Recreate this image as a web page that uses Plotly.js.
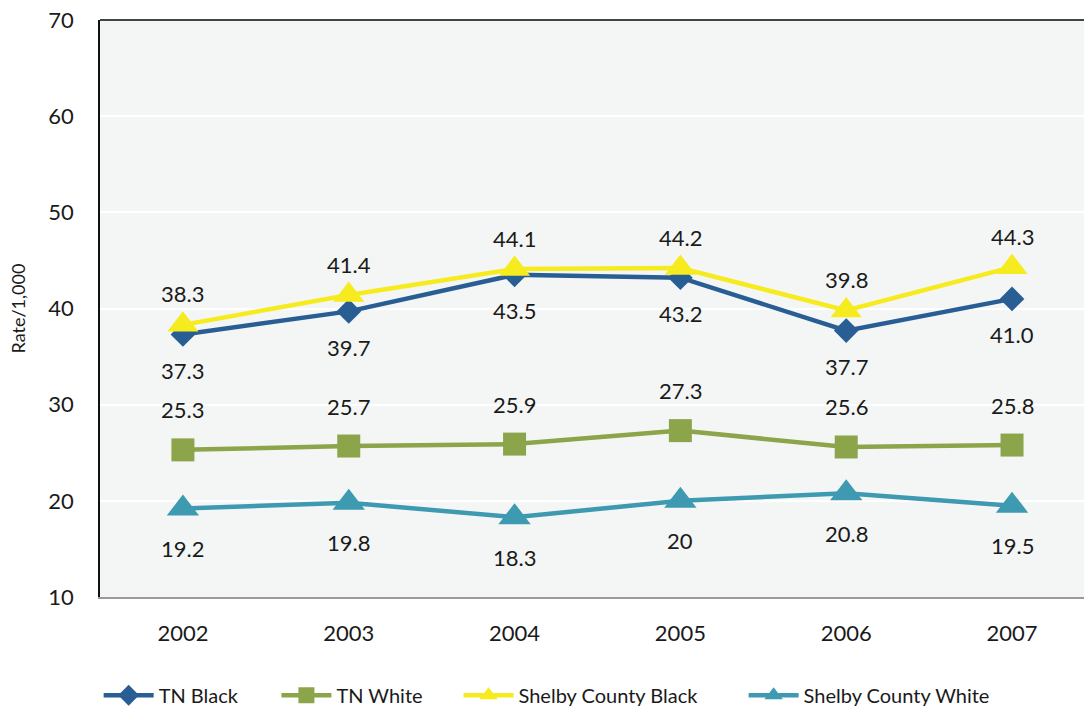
<!DOCTYPE html>
<html>
<head>
<meta charset="utf-8">
<script src="https://cdn.plot.ly/plotly-3.0.1.min.js"></script>
<style>html,body{margin:0;padding:0;background:#fff;}#chart{width:1084px;height:708px;}</style>
</head>
<body>
<div id="chart"></div>
<script>
const years = ["2002", "2003", "2004", "2005", "2006", "2007"];
const tnBlack = [37.3, 39.7, 43.5, 43.2, 37.7, 41.0];
const tnBlackText = ["37.3", "39.7", "43.5", "43.2", "37.7", "41.0"];
const tnWhite = [25.3, 25.7, 25.9, 27.3, 25.6, 25.8];
const tnWhiteText = ["25.3", "25.7", "25.9", "27.3", "25.6", "25.8"];
const shelbyBlack = [38.3, 41.4, 44.1, 44.2, 39.8, 44.3];
const shelbyBlackText = ["38.3", "41.4", "44.1", "44.2", "39.8", "44.3"];
const shelbyWhite = [19.2, 19.8, 18.3, 20, 20.8, 19.5];
const shelbyWhiteText = ["19.2", "19.8", "18.3", "20", "20.8", "19.5"];

const FONT = "Lato, 'Noto Sans', sans-serif";

function series(name, y, color, symbol, size, legendId) {
  return {
    type: "scatter", mode: "lines+markers", name: name,
    x: years, y: y, legend: legendId,
    line: {color: color, width: 4.5},
    marker: {color: color, symbol: symbol, size: size},
    cliponaxis: false
  };
}

const data = [
  series("TN Black", tnBlack, "#285e94", "diamond", 19, "legend"),
  series("TN White", tnWhite, "#8ca44a", "square", 23, "legend2"),
  series("Shelby County Black", shelbyBlack, "#f5eb1e", "triangle-up", 27, "legend3"),
  series("Shelby County White", shelbyWhite, "#3d9ab0", "triangle-up", 28, "legend4")
];

function labels(y, text, shift) {
  return years.map((yr, i) => ({
    x: i, y: y[i], text: text[i], showarrow: false,
    xref: "x", yref: "y", yshift: shift,
    font: {family: FONT, size: 22, color: "#1a1a1a"}
  }));
}

const annotations = [].concat(
  labels(tnBlack, tnBlackText, -36),
  labels(tnWhite, tnWhiteText, 40),
  labels(shelbyBlack, shelbyBlackText, 31),
  labels(shelbyWhite, shelbyWhiteText, -40)
);

const legFont = {family: FONT, size: 20, color: "#1a1a1a"};
function leg(x) {
  return {orientation: "h", x: x, xanchor: "left", xref: "container",
          y: 0.018, yanchor: "middle", yref: "container",
          font: legFont, itemwidth: 50, bgcolor: "rgba(0,0,0,0)"};
}

const layout = {
  width: 1084, height: 708,
  margin: {l: 100, r: 0, t: 20, b: 111},
  paper_bgcolor: "#ffffff",
  plot_bgcolor: "#f4f6f5",
  font: {family: FONT, size: 20, color: "#1a1a1a"},
  showlegend: true,
  legend: leg(0.091),
  legend2: leg(0.255),
  legend3: leg(0.423),
  legend4: leg(0.686),
  annotations: annotations,
  xaxis: {
    type: "category", range: [-0.5, 5.434],
    showgrid: false, zeroline: false,
    showline: true, linecolor: "#9a9a9a", linewidth: 2,
    ticks: "outside", ticklen: 16, tickcolor: "rgba(0,0,0,0)",
    tickfont: {family: FONT, size: 22, color: "#1a1a1a"}
  },
  yaxis: {
    range: [10, 70], dtick: 10,
    showgrid: true, gridcolor: "#ffffff", gridwidth: 2,
    zeroline: false, showline: true, linecolor: "#111111", linewidth: 1.5,
    ticks: "outside", ticklen: 20, tickcolor: "rgba(0,0,0,0)",
    tickfont: {family: FONT, size: 22, color: "#1a1a1a"},
    title: {text: "Rate/1,000", font: {family: FONT, size: 18, color: "#1a1a1a"}, standoff: 18}
  },
  shapes: [{type: "line", xref: "paper", yref: "paper", x0: 0, x1: 1, y0: 1, y1: 1,
            line: {color: "#444444", width: 2}}]
};

Plotly.newPlot("chart", data, layout, {displayModeBar: false});
</script>
</body>
</html>
